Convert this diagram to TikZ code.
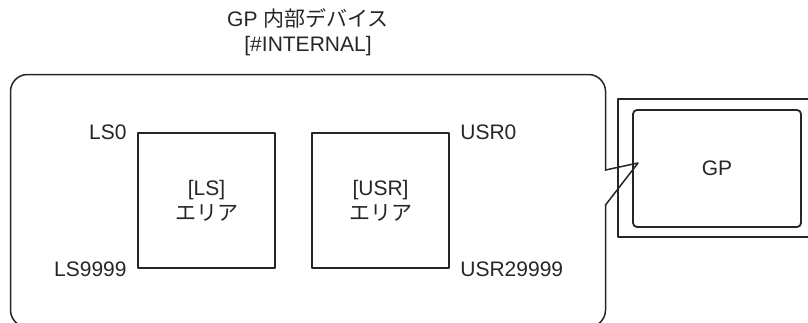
\documentclass[tikz,border=0pt]{standalone}
\usepackage{fontspec}
\setmainfont{Liberation Sans}
\newfontfamily\jpfont{Noto Sans CJK JP}
\usetikzlibrary{positioning}

\begin{document}
\begin{tikzpicture}[x=0.5pt,y=-0.5pt,line join=round]
  \useasboundingbox (0,0) rectangle (808,322);
  \clip (0,0) rectangle (808,322);
  \tikzstyle{every node}=[font=\fontsize{10.5}{12.5}\selectfont,text=black!85]
  \tikzstyle{area}=[draw=black!85,line width=1pt,minimum width=68.5pt,minimum height=67.5pt,align=center,inner sep=0pt]
  \tikzstyle{addr}=[inner sep=0pt]
  \tikzstyle{frame}=[draw=black!85,line width=0.75pt]
  %%
  \node[align=center](title) at (308,32.5) {GP {\jpfont 内部デバイス}\\{[\#INTERNAL]}};
  %%
  \begin{scope}
    \node[area](ls) at (206.5,200.5) {[LS]\\{\jpfont エリア}};
    \node[area](usr) at (380.5,200.5) {[USR]\\{\jpfont エリア}};
    \node[addr,left=5pt of ls.north west](ls0) {LS0};
    \node[addr,left=5pt of ls.south west](ls9999) {LS9999};
    \node[addr,right=5pt of usr.north east](usr0) {USR0};
    \node[addr,right=5pt of usr.south east](usr29999) {USR29999};
  \end{scope}
  %%
  \begin{scope}
    \node[draw=black!85,line width=0.8pt,minimum width=120pt,minimum height=69pt](gpframe) at (738,168) {};
    \node[draw=black!85,line width=0.9pt,rounded corners=2pt,minimum width=84pt,minimum height=58.5pt](gp) at (717,168.5) {GP};
    \coordinate (tip) at (638,163);
    \coordinate (top) at (605.5,170);
    \coordinate (bot) at (605.5,205);
  \end{scope}
  %% internal device frame with callout
  \draw[frame,rounded corners=8.5pt] (10.5,74.5) rectangle (605.5,327);
  \fill[white] (603,171) rectangle (608,204);
  \draw[frame] (top) -- (tip) -- (bot);
\end{tikzpicture}
\end{document}
